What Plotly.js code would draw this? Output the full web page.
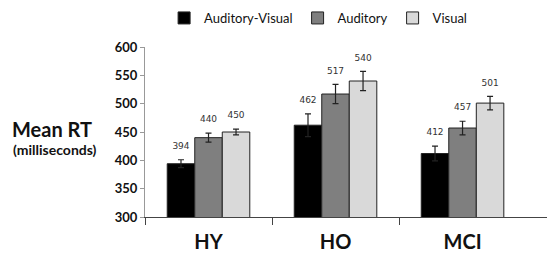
<!DOCTYPE html>
<html><head><meta charset="utf-8">
<script src="https://cdn.plot.ly/plotly-3.0.1.min.js"></script>
<style>html,body{margin:0;padding:0;background:#fff}#c{width:547px;height:257px}</style>
</head><body><div id="c"></div>
<script>
const groups = ["HY", "HO", "MCI"];
const seriesNames = ["Auditory-Visual", "Auditory", "Visual"];
const avValues = [394, 462, 412];
const aValues = [440, 517, 457];
const vValues = [450, 540, 501];
const avErr = [7, 20, 13];
const aErr = [8, 17, 12];
const vErr = [5, 17, 12];
const yTicks = [300, 350, 400, 450, 500, 550, 600];
const groupBoundaries = [-0.5, 0.5, 1.5];

const colors = ["#000000", "#7f7f7f", "#d9d9d9"];
const vals = [avValues, aValues, vValues];
const errs = [avErr, aErr, vErr];

const traces = [];
for (let i = 0; i < 3; i++) {
  traces.push({
    type: "bar", name: seriesNames[i], x: groups, y: vals[i],
    offsetgroup: String(i),
    marker: {color: colors[i], line: {color: "#222", width: 1}},
    error_y: {type: "data", array: errs[i], visible: true, color: "#222", thickness: 1.2, width: 3},
    hoverinfo: "skip"
  });
}
for (let i = 0; i < 3; i++) {
  traces.push({
    type: "scatter", mode: "markers+text", x: groups,
    y: vals[i].map((v, k) => v + errs[i][k]),
    marker: {size: 12, opacity: 0},
    text: vals[i].map(String), textposition: "top center",
    textfont: {family: "DejaVu Sans, sans-serif", size: 9, color: "#333"},
    offsetgroup: String(i), showlegend: false, hoverinfo: "skip", cliponaxis: false
  });
}
// invisible helper trace so the boundary-tick axis is drawn
traces.push({
  type: "scatter", mode: "none", x: groupBoundaries, y: groupBoundaries.map(() => 300),
  xaxis: "x2", yaxis: "y", showlegend: false, hoverinfo: "skip"
});

const layout = {
  width: 547, height: 257,
  margin: {l: 145, r: 0, t: 47, b: 40},
  paper_bgcolor: "#fff", plot_bgcolor: "#fff",
  barmode: "group", bargap: 0.35, bargroupgap: 0,
  scattermode: "group", scattergap: 0.35,
  showlegend: true,
  legend: {orientation: "h", xref: "container", yref: "container",
    x: 0.30, xanchor: "left", y: 0.93, yanchor: "middle",
    font: {family: "Lato, Open Sans, sans-serif", size: 13, color: "#111"},
    itemwidth: 30, tracegroupgap: 0, traceorder: "normal"},
  xaxis: {
    type: "category", range: [-0.5, 2.665],
    ticks: "", ticklabelstandoff: 7,
    showline: true, linecolor: "#444", linewidth: 1,
    tickfont: {family: "Lato, Open Sans, sans-serif", size: 20, color: "#111", weight: "bold"},
    showgrid: false, zeroline: false, fixedrange: true
  },
  xaxis2: {
    type: "linear", overlaying: "x", anchor: "y", side: "bottom", range: [-0.5, 2.665],
    tickvals: groupBoundaries, showticklabels: false,
    ticks: "outside", ticklen: 7, tickcolor: "#444", tickwidth: 1,
    showline: false, showgrid: false, zeroline: false, fixedrange: true
  },
  yaxis: {
    range: [300, 600], tickvals: yTicks, ticktext: yTicks.map(String),
    ticks: "outside", ticklen: 4, tickcolor: "#999",
    showline: true, linecolor: "#999", linewidth: 1,
    tickfont: {family: "Lato, Open Sans, sans-serif", size: 13, color: "#111", weight: "bold"},
    showgrid: false, zeroline: false, fixedrange: true
  },
  annotations: [
    {xref: "paper", yref: "paper", x: -0.232, y: 0.52, xanchor: "center", yanchor: "middle",
     text: "<b>Mean RT</b>", showarrow: false,
     font: {family: "Lato, Open Sans, sans-serif", size: 20, color: "#111"}},
    {xref: "paper", yref: "paper", x: -0.225, y: 0.40, xanchor: "center", yanchor: "middle",
     text: "<b>(milliseconds)</b>", showarrow: false,
     font: {family: "Lato, Open Sans, sans-serif", size: 14, color: "#111"}}
  ]
};
Plotly.newPlot("c", traces, layout, {staticPlot: true, displayModeBar: false});
</script></body></html>
